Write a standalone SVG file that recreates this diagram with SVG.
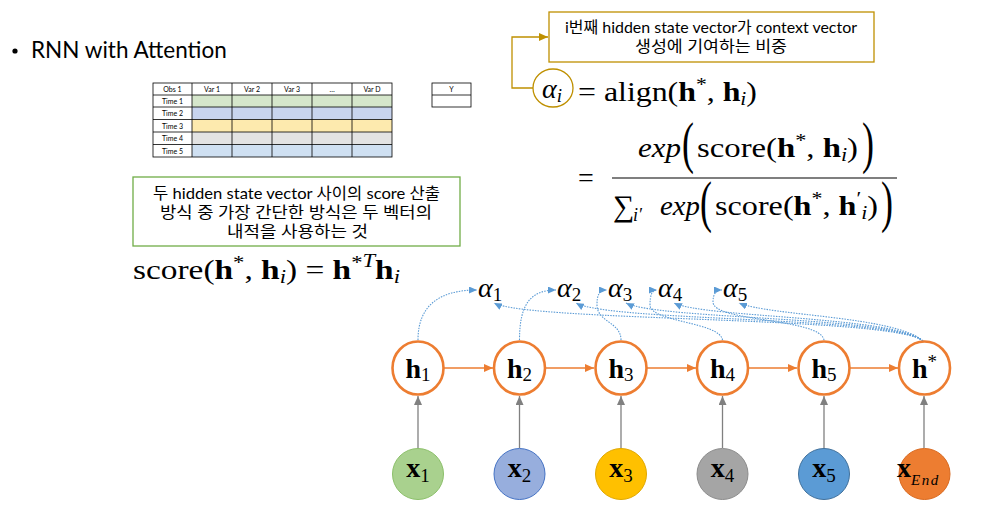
<svg xmlns="http://www.w3.org/2000/svg" width="991" height="512" viewBox="0 0 991 512">
<style>
.m{font-family:"Liberation Serif","Times New Roman",serif;fill:#000}
.b{font-weight:bold}
.it{font-style:italic}
.ko{font-family:"Lato","Noto Sans CJK KR",sans-serif;fill:#000}
.tt{font-family:"Lato","Liberation Sans",sans-serif;font-size:7px;fill:#000;text-anchor:middle}
.cell{stroke:#000;stroke-width:0.8}
.hn{fill:#fff;stroke:#ED7D31;stroke-width:2.6}
.har{stroke:#ED7D31;stroke-width:1.3;fill:none}
.gar{stroke:#808080;stroke-width:1.3;fill:none}
.bd{stroke:#5B9BD5;stroke-width:1.1;fill:none;stroke-dasharray:1.5 1.2}
</style>
<defs>
<marker id="ao" markerUnits="userSpaceOnUse" markerWidth="9" markerHeight="8" refX="9" refY="4" orient="auto"><path d="M0,0L9,4L0,8z" fill="#ED7D31"/></marker>
<marker id="ag" markerUnits="userSpaceOnUse" markerWidth="9" markerHeight="8" refX="9" refY="4" orient="auto"><path d="M0,0L9,4L0,8z" fill="#808080"/></marker>
<marker id="ab" markerUnits="userSpaceOnUse" markerWidth="8" markerHeight="7" refX="8" refY="3.5" orient="auto"><path d="M0,0L8,3.5L0,7z" fill="#5B9BD5"/></marker>
<marker id="ay" markerUnits="userSpaceOnUse" markerWidth="9" markerHeight="8" refX="9" refY="4" orient="auto"><path d="M0,0L9,4L0,8z" fill="#BF9000"/></marker>
</defs>

<g id="title">
<circle cx="15" cy="51" r="2.6" fill="#000"/>
<text x="31" y="58" font-family="Lato,'Liberation Sans',sans-serif" font-size="22.5" fill="#000">RNN with Attention</text>
</g>

<g id="table">
<rect x="153" y="83" width="239" height="12" fill="#fff"/>
<rect x="192" y="95" width="200" height="12" fill="#D5E6CB"/>
<rect x="192" y="107" width="200" height="12.5" fill="#C8D4EE"/>
<rect x="192" y="119.5" width="200" height="12.5" fill="#FDEAAE"/>
<rect x="192" y="132" width="200" height="12.5" fill="#E3E3E3"/>
<rect x="192" y="144.5" width="200" height="12.5" fill="#CFE0F2"/>
<g class="cell" fill="none">
<rect x="153" y="83" width="239" height="74"/>
<line x1="153" y1="95" x2="392" y2="95"/>
<line x1="153" y1="107" x2="392" y2="107"/>
<line x1="153" y1="119.5" x2="392" y2="119.5"/>
<line x1="153" y1="132" x2="392" y2="132"/>
<line x1="153" y1="144.5" x2="392" y2="144.5"/>
<line x1="192" y1="83" x2="192" y2="157"/>
<line x1="232" y1="83" x2="232" y2="157"/>
<line x1="272" y1="83" x2="272" y2="157"/>
<line x1="312" y1="83" x2="312" y2="157"/>
<line x1="352" y1="83" x2="352" y2="157"/>
<rect x="432" y="83" width="39" height="24"/>
<line x1="432" y1="95" x2="471" y2="95"/>
</g>
<text class="tt" x="172.5" y="91.5">Obs 1</text>
<text class="tt" x="212" y="91.5">Var 1</text>
<text class="tt" x="252" y="91.5">Var 2</text>
<text class="tt" x="292" y="91.5">Var 3</text>
<text class="tt" x="332" y="91.5">…</text>
<text class="tt" x="372" y="91.5">Var D</text>
<text class="tt" x="451.5" y="91.5">Y</text>
<text class="tt" x="172.5" y="103.5">Time 1</text>
<text class="tt" x="172.5" y="116">Time 2</text>
<text class="tt" x="172.5" y="128.5">Time 3</text>
<text class="tt" x="172.5" y="141">Time 4</text>
<text class="tt" x="172.5" y="153.5">Time 5</text>
</g>

<g id="note-yellow">
<rect x="549" y="12" width="325" height="50" fill="#fff" stroke="#BF9000" stroke-width="1.3"/>
<text class="ko" x="565" y="33" font-size="16" textLength="292" lengthAdjust="spacingAndGlyphs">i번째 hidden state vector가 context vector</text>
<text class="ko" x="635" y="52" font-size="16" textLength="152" lengthAdjust="spacingAndGlyphs">생성에 기여하는 비중</text>
</g>

<g id="note-green">
<rect x="133" y="177" width="327" height="69" fill="#fff" stroke="#70AD47" stroke-width="1.3"/>
<text class="ko" x="153" y="199" font-size="16" textLength="287" lengthAdjust="spacingAndGlyphs">두 hidden state vector 사이의 score 산출</text>
<text class="ko" x="160" y="218" font-size="16" textLength="272" lengthAdjust="spacingAndGlyphs">방식 중 가장 간단한 방식은 두 벡터의</text>
<text class="ko" x="227" y="237" font-size="16" textLength="141" lengthAdjust="spacingAndGlyphs">내적을 사용하는 것</text>
</g>

<g id="formula-align">
<ellipse cx="553" cy="88" rx="20" ry="19" fill="none" stroke="#BF9000" stroke-width="1.3"/>
<text class="m" x="542" y="98" font-size="28"><tspan class="it">α</tspan><tspan class="it" font-size="19" dy="4">i</tspan></text>
<text class="m" x="578" y="101" font-size="28" textLength="179" lengthAdjust="spacingAndGlyphs">= align(<tspan class="b">h</tspan><tspan font-size="19" dy="-10">*</tspan><tspan dy="10">, </tspan><tspan class="b">h</tspan><tspan class="it" font-size="19" dy="4">i</tspan><tspan dy="-4">)</tspan></text>
</g>

<g id="formula-softmax">
<text class="m" x="578" y="187" font-size="28">=</text>
<line x1="612" y1="178" x2="897" y2="178" stroke="#000" stroke-width="1.2"/>
<text class="m it" x="638" y="157" font-size="28" textLength="43" lengthAdjust="spacingAndGlyphs">exp</text>
<text class="m" transform="translate(682,162) scale(0.62,1)" font-size="58">(</text>
<text class="m" x="697" y="157" font-size="28" textLength="161" lengthAdjust="spacingAndGlyphs">score(<tspan class="b">h</tspan><tspan font-size="19" dy="-10">*</tspan><tspan dy="10">, </tspan><tspan class="b">h</tspan><tspan class="it" font-size="19" dy="4">i</tspan><tspan dy="-4">)</tspan></text>
<text class="m" transform="translate(862,162) scale(0.62,1)" font-size="58">)</text>
<text class="m" x="613" y="216" font-size="30">∑</text>
<text class="m it" x="633" y="221" font-size="18">i′</text>
<text class="m it" x="660" y="215" font-size="28" textLength="40" lengthAdjust="spacingAndGlyphs">exp</text>
<text class="m" transform="translate(700,221) scale(0.62,1)" font-size="58">(</text>
<text class="m" x="715" y="215" font-size="28" textLength="163" lengthAdjust="spacingAndGlyphs">score(<tspan class="b">h</tspan><tspan font-size="19" dy="-10">*</tspan><tspan dy="10">, </tspan><tspan class="b">h</tspan><tspan font-size="19" dy="-10">′</tspan><tspan class="it" font-size="19" dy="14">i</tspan><tspan dy="-4">)</tspan></text>
<text class="m" transform="translate(881,221) scale(0.62,1)" font-size="58">)</text>
</g>

<g id="formula-score">
<text class="m" x="133" y="279" font-size="28" textLength="267" lengthAdjust="spacingAndGlyphs">score(<tspan class="b">h</tspan><tspan font-size="19" dy="-10">*</tspan><tspan dy="10">, </tspan><tspan class="b">h</tspan><tspan class="it" font-size="19" dy="4">i</tspan><tspan dy="-4">) = </tspan><tspan class="b">h</tspan><tspan font-size="19" dy="-10">*</tspan><tspan class="it" font-size="19" dy="-2">T</tspan><tspan class="b" dy="12">h</tspan><tspan class="it" font-size="19" dy="4">i</tspan></text>
</g>

<g id="alphas" class="m it" font-size="28">
<text x="478" y="297">α<tspan font-style="normal" font-size="19" dy="4">1</tspan></text>
<text x="557" y="297">α<tspan font-style="normal" font-size="19" dy="4">2</tspan></text>
<text x="608" y="297">α<tspan font-style="normal" font-size="19" dy="4">3</tspan></text>
<text x="658" y="297">α<tspan font-style="normal" font-size="19" dy="4">4</tspan></text>
<text x="723" y="297">α<tspan font-style="normal" font-size="19" dy="4">5</tspan></text>
</g>

<g id="connectors">
<path d="M533,88 H512 V37 H548" fill="none" stroke="#BF9000" stroke-width="1.3" marker-end="url(#ay)"/>
<line class="har" x1="444" y1="368" x2="493" y2="368" marker-end="url(#ao)"/>
<line class="har" x1="546" y1="368" x2="594" y2="368" marker-end="url(#ao)"/>
<line class="har" x1="647" y1="368" x2="696" y2="368" marker-end="url(#ao)"/>
<line class="har" x1="749" y1="368" x2="797" y2="368" marker-end="url(#ao)"/>
<line class="har" x1="850" y1="368" x2="898" y2="368" marker-end="url(#ao)"/>
<line class="gar" x1="418" y1="448" x2="418" y2="396" marker-end="url(#ag)"/>
<line class="gar" x1="519.5" y1="448" x2="519.5" y2="396" marker-end="url(#ag)"/>
<line class="gar" x1="621" y1="448" x2="621" y2="396" marker-end="url(#ag)"/>
<line class="gar" x1="722.5" y1="448" x2="722.5" y2="396" marker-end="url(#ag)"/>
<line class="gar" x1="824" y1="448" x2="824" y2="396" marker-end="url(#ag)"/>
<line class="gar" x1="924" y1="448" x2="924" y2="396" marker-end="url(#ag)"/>
<path class="bd" d="M418,340 C418,305 440,290 477,290" marker-end="url(#ab)"/>
<path class="bd" d="M519.5,340 C519.5,305 530,290 556,290" marker-end="url(#ab)"/>
<path class="bd" d="M621,340 C621,322 597,322 597,305 C597,295 599,290 607,290" marker-end="url(#ab)"/>
<path class="bd" d="M722.5,340 C720,322 650,322 650,305 C650,295 652,290 657,290" marker-end="url(#ab)"/>
<path class="bd" d="M824,340 C820,318 713,322 713,302 C713,294 716,290 722,290" marker-end="url(#ab)"/>
<path class="bd" d="M923,341 C895,316 530,322 494,303" marker-end="url(#ab)"/>
<path class="bd" d="M923,341 C895,316 610,322 576,303" marker-end="url(#ab)"/>
<path class="bd" d="M923,341 C895,316 660,320 626,303" marker-end="url(#ab)"/>
<path class="bd" d="M923,341 C895,316 705,318 674,303" marker-end="url(#ab)"/>
<path class="bd" d="M923,341 C895,316 770,316 739,303" marker-end="url(#ab)"/>
</g>

<g id="h1"><ellipse class="hn" cx="418" cy="368" rx="25.5" ry="26.5"/><text class="m" x="418" y="378" font-size="28" text-anchor="middle"><tspan class="b">h</tspan><tspan font-size="19" dy="3">1</tspan></text></g>
<g id="h2"><ellipse class="hn" cx="519.5" cy="368" rx="25.5" ry="26.5"/><text class="m" x="519.5" y="378" font-size="28" text-anchor="middle"><tspan class="b">h</tspan><tspan font-size="19" dy="3">2</tspan></text></g>
<g id="h3"><ellipse class="hn" cx="621" cy="368" rx="25.5" ry="26.5"/><text class="m" x="621" y="378" font-size="28" text-anchor="middle"><tspan class="b">h</tspan><tspan font-size="19" dy="3">3</tspan></text></g>
<g id="h4"><ellipse class="hn" cx="722.5" cy="368" rx="25.5" ry="26.5"/><text class="m" x="722.5" y="378" font-size="28" text-anchor="middle"><tspan class="b">h</tspan><tspan font-size="19" dy="3">4</tspan></text></g>
<g id="h5"><ellipse class="hn" cx="824" cy="368" rx="25.5" ry="26.5"/><text class="m" x="824" y="378" font-size="28" text-anchor="middle"><tspan class="b">h</tspan><tspan font-size="19" dy="3">5</tspan></text></g>
<g id="hstar"><ellipse class="hn" cx="924.5" cy="368" rx="25.5" ry="26.5"/><text class="m" x="924.5" y="378" font-size="28" text-anchor="middle"><tspan class="b">h</tspan><tspan font-size="19" dy="-10">*</tspan></text></g>

<g id="x1"><circle cx="418" cy="474" r="25.5" fill="#A9D18E" stroke="#8CC06A" stroke-width="1"/><text class="m" x="418" y="477" font-size="28" text-anchor="middle"><tspan class="b">x</tspan><tspan font-size="19" dy="5">1</tspan></text></g>
<g id="x2"><circle cx="519.5" cy="474" r="25.5" fill="#97AEDD" stroke="#4472C4" stroke-width="1"/><text class="m" x="519.5" y="477" font-size="28" text-anchor="middle"><tspan class="b">x</tspan><tspan font-size="19" dy="5">2</tspan></text></g>
<g id="x3"><circle cx="621" cy="474" r="25.5" fill="#FFC000" stroke="#E0A800" stroke-width="1"/><text class="m" x="621" y="477" font-size="28" text-anchor="middle"><tspan class="b">x</tspan><tspan font-size="19" dy="5">3</tspan></text></g>
<g id="x4"><circle cx="722.5" cy="474" r="25.5" fill="#A5A5A5" stroke="#8C8C8C" stroke-width="1"/><text class="m" x="722.5" y="477" font-size="28" text-anchor="middle"><tspan class="b">x</tspan><tspan font-size="19" dy="5">4</tspan></text></g>
<g id="x5"><circle cx="824" cy="474" r="25.5" fill="#5B9BD5" stroke="#41719C" stroke-width="1"/><text class="m" x="824" y="477" font-size="28" text-anchor="middle"><tspan class="b">x</tspan><tspan font-size="19" dy="5">5</tspan></text></g>
<g id="xend"><circle cx="924.5" cy="474" r="25.5" fill="#ED7D31" stroke="#D9691F" stroke-width="1"/><text class="m" x="897" y="477" font-size="28"><tspan class="b">x</tspan><tspan class="it" font-size="15" dy="8" letter-spacing="1.5">End</tspan></text></g>
</svg>
